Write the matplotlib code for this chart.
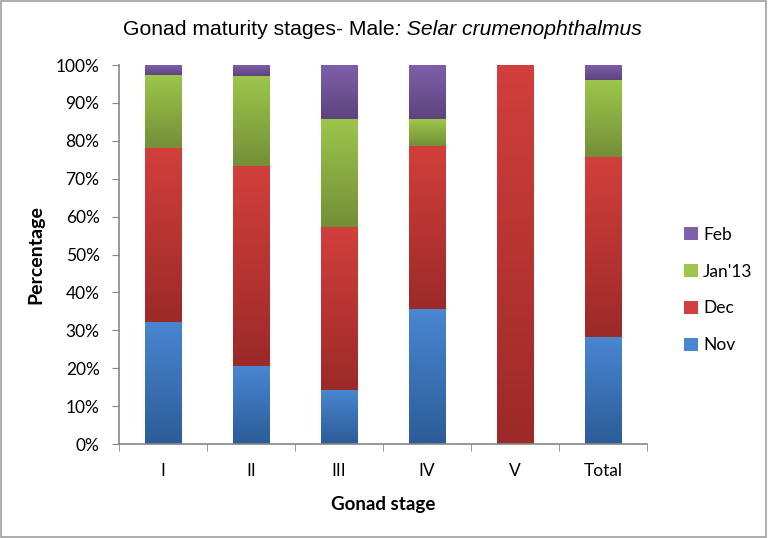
import numpy as np
import matplotlib.pyplot as plt
from matplotlib.colors import LinearSegmentedColormap
from matplotlib.patches import Rectangle, Patch

stages = ["I", "II", "III", "IV", "V", "Total"]
nov = [32.3, 20.6, 14.3, 35.7, 0.0, 28.3]
dec = [45.9, 52.8, 42.9, 42.9, 100.0, 47.5]
jan13 = [19.3, 23.6, 28.6, 7.1, 0.0, 20.2]
feb = [2.5, 3.0, 14.3, 14.3, 0.0, 4.0]

series = [("Nov", nov), ("Dec", dec), ("Jan'13", jan13), ("Feb", feb)]
# (top colour, bottom colour) for each segment's gradient
shades = {
    "Nov": ("#4a86d2", "#2c5c98"),
    "Dec": ("#d23f3c", "#9c2a28"),
    "Jan'13": ("#9dc64b", "#748f38"),
    "Feb": ("#7f60ab", "#5d447e"),
}

plt.rcParams["font.family"] = ["Lato", "DejaVu Sans"]

fig = plt.figure(figsize=(7.68, 5.38), dpi=100)
ax = fig.add_axes([0.155, 0.1747, 0.6874, 0.7043])

x = np.arange(len(stages))
bottom = np.zeros(len(stages))
grad = np.linspace(0, 1, 256).reshape(-1, 1)
for name, vals in series:
    vals = np.array(vals)
    bars = ax.bar(x, vals, width=0.41, bottom=bottom, color="none", edgecolor="none")
    cmap = LinearSegmentedColormap.from_list(name, [shades[name][1], shades[name][0]])
    for b in bars:
        if b.get_height() <= 0:
            continue
        x0, y0 = b.get_x(), b.get_y()
        im = ax.imshow(grad, cmap=cmap, aspect="auto", origin="lower",
                       extent=[x0, x0 + b.get_width(), y0, y0 + b.get_height()],
                       interpolation="bicubic", zorder=2)
        im.set_clip_path(b)
    bottom += vals

ax.set_xlim(-0.5, len(stages) - 0.5)
ax.set_ylim(0, 100)
ax.set_yticks(np.arange(0, 101, 10))
ax.set_yticklabels([f"{v}%" for v in range(0, 101, 10)])
ax.set_xticks(x)
ax.set_xticklabels(stages)
ax.set_xticks(np.arange(-0.5, len(stages), 1), minor=True)
ax.tick_params(axis="x", which="major", length=0, pad=14, labelsize=12.5, colors="#000000")
ax.tick_params(axis="x", which="minor", length=5, direction="out", color="#868686")
ax.tick_params(axis="y", length=5, direction="out", color="#868686", labelsize=12.5, pad=9)

for side in ("top", "right"):
    ax.spines[side].set_visible(False)
for side in ("left", "bottom"):
    ax.spines[side].set_color("#868686")
    ax.spines[side].set_linewidth(1.2)

ax.set_ylabel("Percentage", fontsize=14, fontweight="bold", labelpad=8)
ax.set_xlabel("Gonad stage", fontsize=13.5, fontweight="bold", labelpad=12)

# title: plain part followed by italic species name
tfont = ["Liberation Sans", "DejaVu Sans"]
t1 = fig.text(0, 0.945, "Gonad maturity stages- Male", fontsize=15.2, family=tfont,
              ha="left", va="center")
t2 = fig.text(0, 0.945, ": Selar crumenophthalmus", fontsize=15.2, style="italic",
              family=tfont, ha="left", va="center")
fig.canvas.draw()
w1 = t1.get_window_extent().width / fig.bbox.width
w2 = t2.get_window_extent().width / fig.bbox.width
start = 0.498 - (w1 + w2) / 2
t1.set_x(start)
t2.set_x(start + w1)

handles = [Patch(facecolor=shades[n][0], edgecolor="none", label=n) for n, _ in reversed(series)]
fig.legend(handles=handles, loc="center left", bbox_to_anchor=(0.87, 0.461), frameon=False,
           fontsize=12.5, handlelength=0.8, handleheight=0.8, handletextpad=0.3,
           labelspacing=1.2)

fig.patches.append(Rectangle((0.001, 0.002), 0.997, 0.996, transform=fig.transFigure,
                             fill=False, edgecolor="#a0a0a0", linewidth=1.2))

fig.savefig("out.png", dpi=100)
